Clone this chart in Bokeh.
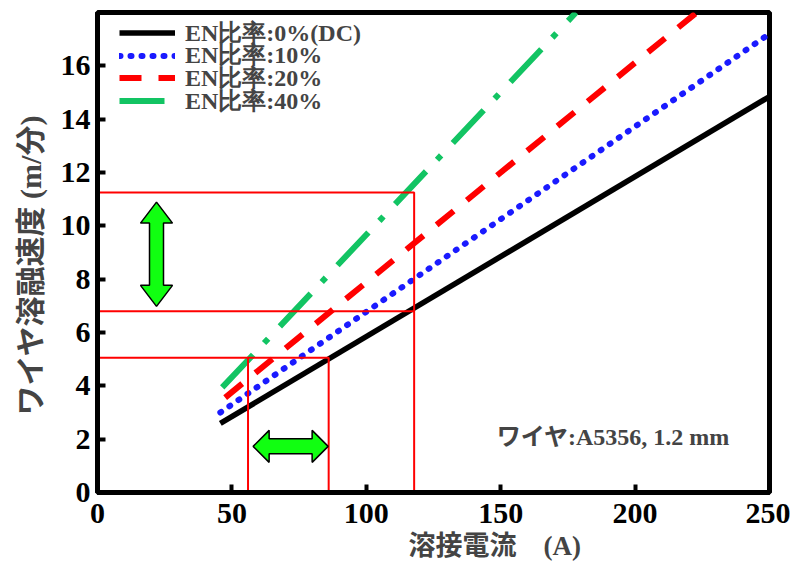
from bokeh.plotting import figure
from bokeh.models import Range1d, Legend, LegendItem, Label, Title
from bokeh.embed import file_html
from bokeh.resources import INLINE

# ---------------- data ----------------
current_dc = [45.7, 250.0]
speed_dc = [2.59, 14.85]
current_en10 = [45.7, 250.0]
speed_en10 = [3.0, 17.2]
current_en20 = [47.5, 222.9]
speed_en20 = [3.56, 18.0]
current_en40 = [46.4, 178.0]
speed_en40 = [3.94, 18.0]
legend_labels = ["EN比率:0%(DC)", "EN比率:10%", "EN比率:20%", "EN比率:40%"]

x_ticks = [0, 50, 100, 150, 200, 250]
y_ticks = [0, 2, 4, 6, 8, 10, 12, 14, 16]
x_label = "溶接電流\u3000(A)"
y_label = "ワイヤ溶融速度 (m/分)"

# reading guides (red)
guide_current_high = 117.8
guide_speed_high_top = 11.25
guide_speed_high_bottom = 6.8
guide_current_low_left = 56.0
guide_current_low_right = 86.0
guide_speed_low = 5.05

# green double arrows
arrow_v_x = 21.95
arrow_v_y0 = 6.98
arrow_v_y1 = 10.89
arrow_h_y = 1.73
arrow_h_x0 = 57.9
arrow_h_x1 = 85.8

note_text = "ワイヤ:A5356, 1.2 mm"
note_x = 148.5
note_y = 2.1

# ---------------- layout ----------------
W, H = 790, 567
ML, MT = 97, 12
FRAME_W, FRAME_H = 672, 480
MR = W - ML - FRAME_W
MB = H - MT - FRAME_H
X0, X1, Y0, Y1 = 0, 250, 0, 18.0
sx = FRAME_W / (X1 - X0)   # px per A
sy = FRAME_H / (Y1 - Y0)   # px per m/min

serif = "Liberation Serif"
cjk = "'Liberation Serif', 'Noto Sans CJK JP'"

p = figure(width=W, height=H, output_backend="svg", toolbar_location=None,
           x_range=Range1d(X0, X1), y_range=Range1d(Y0, Y1),
           min_border_left=ML, min_border_right=MR, min_border_top=MT,
           min_border_bottom=MB)
p.background_fill_color = "white"
p.border_fill_color = "white"
p.outline_line_color = "black"
p.outline_line_width = 5
p.xgrid.visible = False
p.ygrid.visible = False

for ax in (p.xaxis[0], p.yaxis[0]):
    ax.axis_line_width = 5
    ax.major_tick_in = 8
    ax.major_tick_out = 0
    ax.major_tick_line_width = 4
    ax.minor_tick_line_color = None
    ax.major_label_text_font = serif
    ax.major_label_text_font_style = "bold"
    ax.major_label_text_font_size = "30px"
    ax.major_label_text_color = "black"
p.xaxis.ticker = x_ticks
p.yaxis.ticker = y_ticks
p.xaxis.major_label_standoff = 11
p.yaxis.major_label_standoff = 7

# axis titles
xt = Title(text=x_label, align="left", offset=311, standoff=7,
           text_font=cjk, text_font_style="bold", text_font_size="27px")
p.add_layout(xt, "below")
yt = Title(text=y_label, align="left", offset=77, standoff=21,
           text_font=cjk, text_font_style="bold", text_font_size="30px")
p.add_layout(yt, "left")

# series
r0 = p.line(current_dc, speed_dc, line_color="black", line_width=5.5)
r1 = p.line(current_en10, speed_en10, line_color="#1a1aff", line_width=6,
            line_dash="1 10", line_cap="round")
r2 = p.line(current_en20, speed_en20, line_color="#ff0000", line_width=6,
            line_dash="22 17")
r3 = p.line(current_en40, speed_en40, line_color="#12c463", line_width=6,
            line_dash="45 16 6 17")

# red guides
gx = [[X0, guide_current_high, guide_current_high],
      [X0, guide_current_high],
      [X0, guide_current_low_right, guide_current_low_right],
      [guide_current_low_left, guide_current_low_left]]
gy = [[guide_speed_high_top, guide_speed_high_top, Y0],
      [guide_speed_high_bottom, guide_speed_high_bottom],
      [guide_speed_low, guide_speed_low, Y0],
      [Y0, guide_speed_low]]
p.multi_line(gx, gy, line_color="#ff0000", line_width=2)


# green double arrows (sizes in px converted to data units)
def v_arrow(x, y0, y1, head_half=16, shaft_half=7, head_len=21):
    hw, sw, hl = head_half / sx, shaft_half / sx, head_len / sy
    xs = [x, x + hw, x + sw, x + sw, x + hw, x, x - hw, x - sw, x - sw, x - hw]
    ys = [y1, y1 - hl, y1 - hl, y0 + hl, y0 + hl, y0, y0 + hl, y0 + hl, y1 - hl, y1 - hl]
    return xs, ys


def h_arrow(y, x0, x1, head_half=16, shaft_half=7.5, head_len=16):
    hh, sh, hl = head_half / sy, shaft_half / sy, head_len / sx
    xs = [x1, x1 - hl, x1 - hl, x0 + hl, x0 + hl, x0, x0 + hl, x0 + hl, x1 - hl, x1 - hl]
    ys = [y, y + hh, y + sh, y + sh, y + hh, y, y - hh, y - sh, y - sh, y - hh]
    return xs, ys


vx, vy = v_arrow(arrow_v_x, arrow_v_y0, arrow_v_y1)
hx, hy = h_arrow(arrow_h_y, arrow_h_x0, arrow_h_x1)
p.patches([vx, hx], [vy, hy], fill_color="#11ff11", line_color="black", line_width=1.5)

# note
p.add_layout(Label(x=note_x, y=note_y, text=note_text, text_font=cjk,
                   text_font_style="bold", text_font_size="24px",
                   text_baseline="middle", text_align="left"))

# legend: one single-row legend per series so the rows sit tightly together
ROW_PITCH = 22.7       # px between legend rows
FIRST_ROW = 21         # px from frame top to first row centre
ROW_H = 31             # rendered row height of a legend entry
for i, (lab, rend) in enumerate(zip(legend_labels, [r0, r1, r2, r3])):
    y_bottom = FRAME_H - FIRST_ROW - ROW_PITCH * i - ROW_H / 2
    lg = Legend(items=[LegendItem(label=lab, renderers=[rend])],
                location=(22, y_bottom), padding=0, spacing=0, margin=0,
                glyph_width=56, glyph_height=23, label_height=23,
                label_standoff=10, label_text_font=serif,
                label_text_font_style="bold", label_text_font_size="24px",
                border_line_alpha=0, background_fill_alpha=0)
    p.add_layout(lg)

open("out.html", "w").write(file_html(p, INLINE))
